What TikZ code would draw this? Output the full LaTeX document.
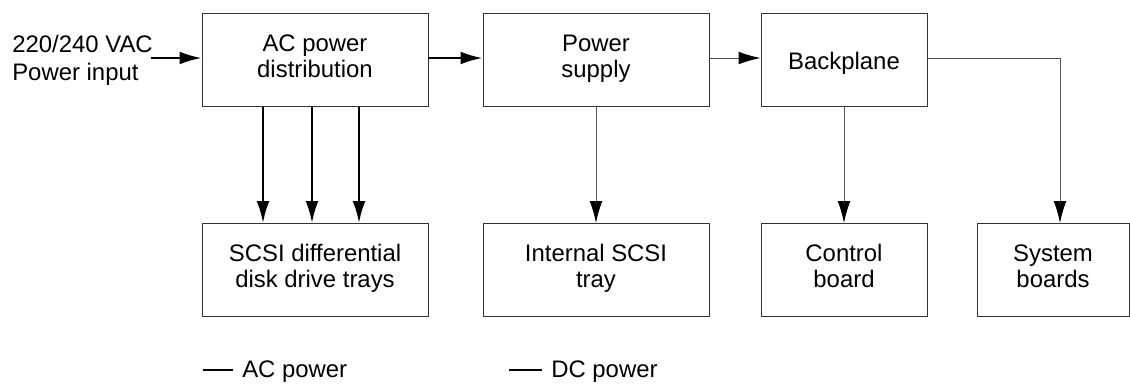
\documentclass[tikz,border=0pt]{standalone}
\usepackage{fontspec}
\setmainfont{Liberation Sans}
\usepackage{xcolor}
\usetikzlibrary{arrows.meta, positioning, calc}
\definecolor{pwrframe}{HTML}{333333}
\definecolor{pwrthin}{HTML}{555555}
\tikzset{
  unit/.style={draw=pwrframe, line width=0.7pt, align=center, inner sep=0pt,
    minimum height=93*0.025cm, font=\fontsize{17}{18.5}\selectfont,
    execute at begin node={\rule{0pt}{18.6pt}}, execute at end node=\strut},
  acline/.style={line width=1.5pt, draw=black,
    -{Latex[length=0.55cm,width=0.32cm]}},
  dcline/.style={line width=0.7pt, draw=pwrthin,
    -{Latex[length=0.55cm,width=0.32cm,color=black]}},
  legtext/.style={anchor=west, inner sep=0pt, font=\fontsize{17}{20}\selectfont}
}

\begin{document}
\begin{tikzpicture}[x=0.025cm, y=-0.025cm]
  \useasboundingbox (0,0) rectangle (1130,383);
  % top row
  \node[unit, minimum width=226*0.025cm] (acd)  at (315,60) {AC power\\distribution};
  \node[unit, minimum width=226*0.025cm] (psu)  at (596,60) {Power\\supply};
  \node[unit, minimum width=166*0.025cm] (bkp)  at (844,60) {Backplane};
  % bottom row
  \node[unit, minimum width=226*0.025cm] (scsi) at (315,270) {SCSI differential\\disk drive trays};
  \node[unit, minimum width=226*0.025cm] (intr) at (596,270) {Internal SCSI\\tray};
  \node[unit, minimum width=166*0.025cm] (ctrl) at (844,270) {Control\\board};
  \node[unit, minimum width=152*0.025cm] (sysb) at (1053,270) {System\\boards};
  % power input
  \node[legtext, align=left, anchor=east] (ain) at (153,60) {220/240 VAC\\Power input};
  \coordinate (aintip) at (151,58);
  \draw[acline] (aintip) -- (aintip -| acd.west);
  % AC power
  \draw[acline] ([yshift=0.05cm]acd.east) -- ([yshift=0.05cm]psu.west);
  \foreach \dx in {-52,-3,44}
    \draw[acline] ([xshift=\dx*0.025cm]acd.south) -- ([xshift=\dx*0.025cm]acd.south |- scsi.north);
  % DC power
  \draw[dcline] ([yshift=0.05cm]psu.east) -- ([yshift=0.05cm]bkp.west);
  \draw[dcline] (psu.south) -- (intr.north);
  \draw[dcline] (bkp.south) -- (ctrl.north);
  \draw[dcline] ([yshift=0.05cm]bkp.east) -| ([xshift=7*0.025cm]sysb.north);
  % legend
  \coordinate (acleg) at (203,370);
  \node[legtext] (actxt) at (242,372) {AC power};
  \draw[line width=1.2pt] (acleg) -- (acleg -| 233,0);
  \coordinate (dcleg) at (509,370);
  \node[legtext] (dctxt) at (551,372) {DC power};
  \draw[line width=0.9pt] (dcleg) -- (dcleg -| 542,0);
\end{tikzpicture}
\end{document}
